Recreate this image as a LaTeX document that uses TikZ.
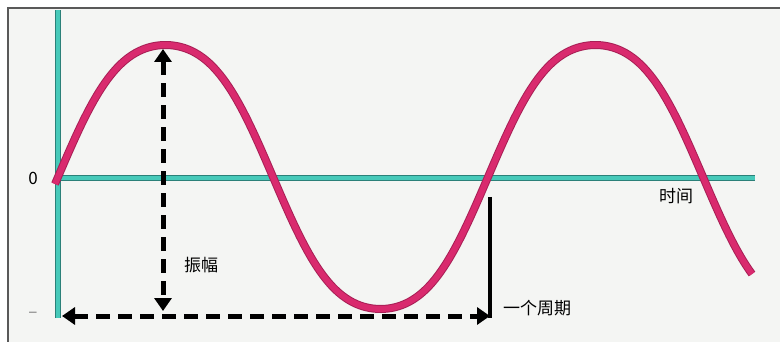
\documentclass[tikz,border=0pt]{standalone}
\usepackage{fontspec}
\newfontfamily\cjk{Noto Sans CJK SC}
\usetikzlibrary{arrows.meta,positioning}
\definecolor{cAxis}{HTML}{46c9b9}
\definecolor{cAxisE}{HTML}{2b8078}
\definecolor{cWave}{HTML}{d92a6e}
\definecolor{cWaveE}{HTML}{a81f55}
\definecolor{cBg}{HTML}{f4f5f3}
\tikzset{
  axisline/.style={draw=cAxisE,line width=1pt,double=cAxis,double distance=3.5pt},
  waveedge/.style={cWaveE,line width=8pt},
  wave/.style={cWave,line width=6pt},
  dimarrow/.style={{Triangle[length=13pt,width=17pt]}-{Triangle[length=13pt,width=17pt]},
                   line width=5pt,dash pattern=on 14pt off 8pt},
  lbl/.style={font=\cjk\fontsize{17}{17}\selectfont,inner sep=1pt},
}
\begin{document}
\begin{tikzpicture}[x=1pt,y=-1pt]
  \useasboundingbox (0,0) rectangle (780,342);
  \fill[cBg] (8,8) rectangle (780,342);
  \draw[gray!70!black,line width=1.4pt] (8,342) -- (8,8) -- (780,8);
  % axes
  \coordinate (ytop) at (58,10);
  \coordinate (ybot) at (58,318);
  \coordinate (o) at (58,178);
  \coordinate (xend) at (755,178);
  \draw[axisline] (ybot) -- (ytop);
  \draw[axisline] (o) -- (xend);
  \node[lbl] (zero) at (33,178) {0};
  \node[lbl,gray] (low) at (33,315) {–};
  % wave
  \def\wavey#1{177-132/0.95*(sin((#1-58)/430*360)+0.05*sin(3*(#1-58)/430*360))}
  \draw[waveedge] plot[domain=55:752,samples=200,smooth] (\x,{\wavey{\x}});
  \draw[wave] plot[domain=55:752,samples=200,smooth] (\x,{\wavey{\x}});
  % amplitude and period
  \coordinate (peak) at (163,49);
  \coordinate (ampfoot) at (163,311);
  \coordinate (pstart) at (62,316);
  \coordinate (pend) at (490,316);
  \coordinate (ptop) at (490,197);
  \coordinate (pfoot) at (490,318);
  \draw[dimarrow] (peak) -- (ampfoot);
  \draw[dimarrow] (pstart) -- (pend);
  \draw[line width=4pt] (ptop) -- (pfoot);
  \node[lbl] (amp) at (201,265) {振幅};
  \node[lbl,right=12pt of pend,yshift=8pt] (period) {一个周期};
  \node[lbl] (time) at (676,196) {时间};
\end{tikzpicture}
\end{document}
